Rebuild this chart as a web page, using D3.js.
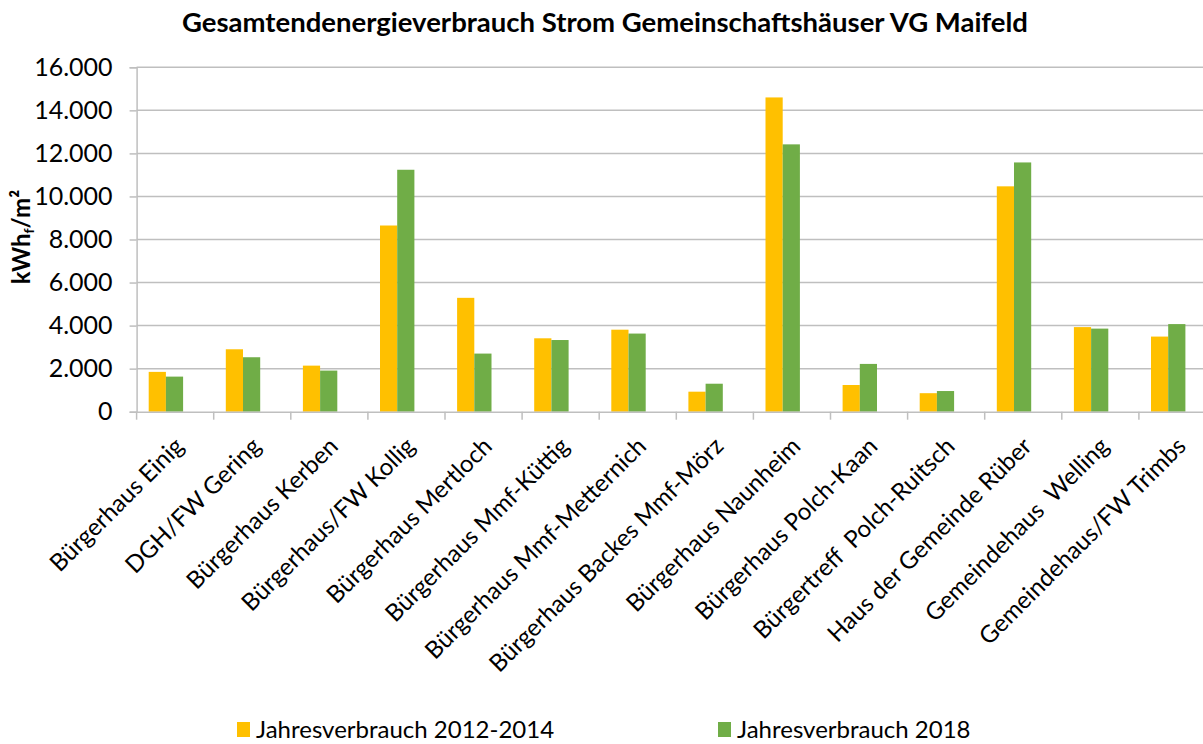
<!DOCTYPE html>
<html>
<head>
<meta charset="utf-8">
<script src="https://cdn.jsdelivr.net/npm/d3@7"></script>
<style>
  body { margin: 0; background: #fff; }
  text { font-family: Lato, "Open Sans", sans-serif; fill: #000; }
</style>
</head>
<body>
<div id="chart"></div>
<script>
const categories = ["Bürgerhaus Einig", "DGH/FW Gering", "Bürgerhaus Kerben", "Bürgerhaus/FW Kollig",
  "Bürgerhaus Mertloch", "Bürgerhaus Mmf-Küttig", "Bürgerhaus Mmf-Metternich", "Bürgerhaus Backes Mmf-Mörz",
  "Bürgerhaus Naunheim", "Bürgerhaus Polch-Kaan", "Bürgertreff  Polch-Ruitsch", "Haus der Gemeinde Rüber",
  "Gemeindehaus  Welling", "Gemeindehaus/FW Trimbs"];
const series = ["Jahresverbrauch 2012-2014", "Jahresverbrauch 2018"];
const verbrauch2012_2014 = [1850, 2900, 2140, 8650, 5290, 3410, 3810, 930, 14600, 1240, 860, 10470, 3930, 3490];
const verbrauch2018 = [1630, 2530, 1910, 11240, 2700, 3330, 3630, 1300, 12420, 2220, 960, 11580, 3860, 4070];
const yTicks = [0, 2000, 4000, 6000, 8000, 10000, 12000, 14000, 16000];
const colors = ["#FFC000", "#70AD47"];

const W = 1203, H = 744;
const plotLeft = 136.6, plotTop = 67.3, plotBottom = 411.7;

const svg = d3.select("#chart").append("svg")
    .attr("width", W).attr("height", H);

// title
svg.append("text")
    .attr("x", 605).attr("y", 32)
    .attr("text-anchor", "middle")
    .style("font-size", "27.5px").style("font-weight", "bold")
    .text("Gesamtendenergieverbrauch Strom Gemeinschaftshäuser VG Maifeld");

const x = d3.scaleBand()
    .domain(categories)
    .range([plotLeft, plotLeft + 14 * 77.1]);

const x1 = d3.scaleBand()
    .domain(series)
    .range([12.1, 12.1 + 34.4]);

const y = d3.scaleLinear()
  .domain([0, 16000])
  .range([plotBottom, plotTop]);

// gridlines
svg.append("g")
  .selectAll("line")
  .data(yTicks.slice(1))
  .join("line")
    .attr("x1", plotLeft).attr("x2", W)
    .attr("y1", d => y(d)).attr("y2", d => y(d))
    .attr("stroke", "#bfbfbf").attr("stroke-width", 1.5);

// y axis
const yAxis = svg.append("g")
    .attr("transform", `translate(${plotLeft},0)`)
    .call(d3.axisLeft(y).tickValues(yTicks).tickSize(7).tickPadding(17)
      .tickFormat(d => d3.format(",")(d).replace(/,/g, ".")));
yAxis.select(".domain").attr("stroke", "#bfbfbf").attr("stroke-width", 1.5);
yAxis.selectAll(".tick line").attr("stroke", "#bfbfbf").attr("stroke-width", 1.5);
yAxis.selectAll(".tick text").style("font-size", "25px");

// y label
const yl = svg.append("text")
    .attr("transform", "translate(30,237) rotate(-90)")
    .attr("text-anchor", "middle")
    .style("font-size", "24px").style("font-weight", "bold");
yl.append("tspan").text("kWh");
yl.append("tspan").attr("dy", 4).style("font-size", "14px").text("f");
yl.append("tspan").attr("dy", -4).text("/m²");

// bars
const rows = categories.map((c, i) => ({ cat: c, vals: [verbrauch2012_2014[i], verbrauch2018[i]] }));
svg.append("g")
  .selectAll("g")
  .data(rows)
  .join("g")
    .attr("transform", d => `translate(${x(d.cat)},0)`)
  .selectAll("rect")
  .data(d => d.vals.map((v, j) => ({ key: series[j], v: v, j: j })))
  .join("rect")
    .attr("x", d => x1(d.key))
    .attr("width", x1.bandwidth())
    .attr("y", d => y(d.v))
    .attr("height", d => plotBottom - y(d.v))
    .attr("fill", d => colors[d.j]);

// x axis
const xAxis = svg.append("g")
    .attr("transform", `translate(0,${plotBottom})`)
    .call(d3.axisBottom(x).tickSize(0).tickFormat(""));
xAxis.select(".domain").attr("stroke", "#bfbfbf").attr("stroke-width", 1.5);
xAxis.selectAll(".tick").remove();
xAxis.selectAll(".sep")
  .data(categories.concat(["end"]))
  .join("line")
    .attr("x1", (d, i) => plotLeft + i * x.step()).attr("x2", (d, i) => plotLeft + i * x.step())
    .attr("y1", 0).attr("y2", 8)
    .attr("stroke", "#bfbfbf").attr("stroke-width", 1.5);

svg.append("g")
  .selectAll("text")
  .data(categories)
  .join("text")
    .attr("transform", d => `translate(${x(d) + x.bandwidth() / 2 + 10},${plotBottom + 36}) rotate(-45)`)
    .attr("text-anchor", "end")
    .style("font-size", "24px")
    .style("white-space", "pre")
    .text(d => d);

// legend
const legX = [237, 718];
const leg = svg.append("g")
  .selectAll("g")
  .data(series)
  .join("g")
    .attr("transform", (d, i) => `translate(${legX[i]},722)`);
leg.append("rect").attr("width", 13).attr("height", 15).attr("fill", (d, i) => colors[i]);
leg.append("text").attr("x", 19).attr("y", 16).style("font-size", "24px").text(d => d);
</script>
</body>
</html>
